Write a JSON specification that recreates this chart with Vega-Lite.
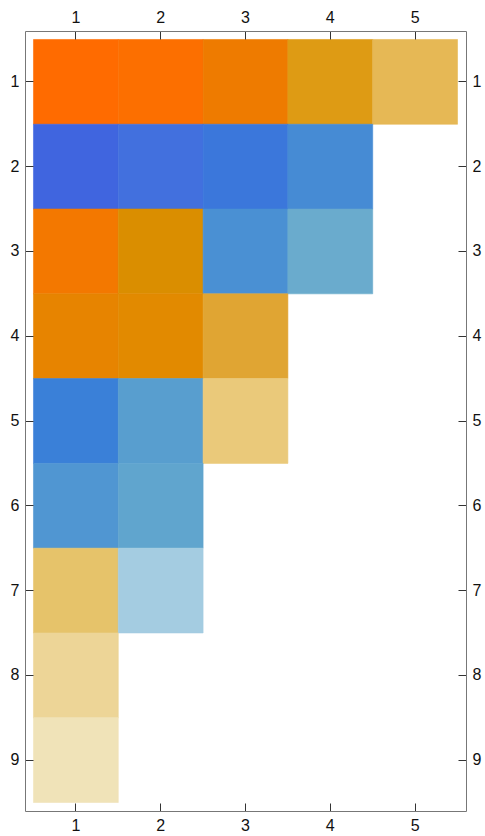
{
  "$schema": "https://vega.github.io/schema/vega-lite/v6.json",
  "autosize": "none",
  "padding": {"left": 25, "top": 31, "right": 19, "bottom": 25},
  "width": 441,
  "height": 780,
  "background": "white",
  "config": {
    "view": {"stroke": null},
    "axis": {
      "labelFont": "Liberation Sans",
      "labelFontSize": 16,
      "labelColor": "#111",
      "domainColor": "#777",
      "domainWidth": 1,
      "tickColor": "#333",
      "tickWidth": 1,
      "tickSize": -8,
      "labelPadding": 14,
      "grid": false,
      "title": null,
      "labelAngle": 0
    }
  },
  "data": {
    "values": [
      {"row": 1, "col": 1, "cell": "1-1"},
      {"row": 1, "col": 2, "cell": "1-2"},
      {"row": 1, "col": 3, "cell": "1-3"},
      {"row": 1, "col": 4, "cell": "1-4"},
      {"row": 1, "col": 5, "cell": "1-5"},
      {"row": 2, "col": 1, "cell": "2-1"},
      {"row": 2, "col": 2, "cell": "2-2"},
      {"row": 2, "col": 3, "cell": "2-3"},
      {"row": 2, "col": 4, "cell": "2-4"},
      {"row": 3, "col": 1, "cell": "3-1"},
      {"row": 3, "col": 2, "cell": "3-2"},
      {"row": 3, "col": 3, "cell": "3-3"},
      {"row": 3, "col": 4, "cell": "3-4"},
      {"row": 4, "col": 1, "cell": "4-1"},
      {"row": 4, "col": 2, "cell": "4-2"},
      {"row": 4, "col": 3, "cell": "4-3"},
      {"row": 5, "col": 1, "cell": "5-1"},
      {"row": 5, "col": 2, "cell": "5-2"},
      {"row": 5, "col": 3, "cell": "5-3"},
      {"row": 6, "col": 1, "cell": "6-1"},
      {"row": 6, "col": 2, "cell": "6-2"},
      {"row": 7, "col": 1, "cell": "7-1"},
      {"row": 7, "col": 2, "cell": "7-2"},
      {"row": 8, "col": 1, "cell": "8-1"},
      {"row": 9, "col": 1, "cell": "9-1"}
    ]
  },
  "layer": [
    {
      "mark": {"type": "rect", "strokeWidth": 0.6},
      "encoding": {
        "x": {
          "field": "col", "type": "ordinal",
          "scale": {"domain": [1, 2, 3, 4, 5], "paddingInner": 0, "paddingOuter": 0.1},
          "axis": {"orient": "bottom"}
        },
        "y": {
          "field": "row", "type": "ordinal",
          "scale": {"domain": [1, 2, 3, 4, 5, 6, 7, 8, 9], "paddingInner": 0, "paddingOuter": 0.1},
          "axis": {"orient": "left"}
        },
        "color": {
          "field": "cell", "type": "nominal", "legend": null,
          "scale": {
            "domain": ["1-1","1-2","1-3","1-4","1-5","2-1","2-2","2-3","2-4","3-1","3-2","3-3","3-4","4-1","4-2","4-3","5-1","5-2","5-3","6-1","6-2","7-1","7-2","8-1","9-1"],
            "range": ["#FF6B00","#FC6F00","#EE7B00","#DE9B14","#E6B855","#4065DF","#4270DE","#3B77DB","#468BD4","#F37800","#DA8E00","#4A90D3","#6AABCD","#E78400","#E28A00","#E0A533","#3A80D8","#589ECF","#EAC97A","#5096D2","#60A5CE","#E6C36A","#A4CCE1","#EDD597","#F0E3B8"]
          }
        },
        "stroke": {
          "field": "cell", "type": "nominal", "legend": null,
          "scale": {
            "domain": ["1-1","1-2","1-3","1-4","1-5","2-1","2-2","2-3","2-4","3-1","3-2","3-3","3-4","4-1","4-2","4-3","5-1","5-2","5-3","6-1","6-2","7-1","7-2","8-1","9-1"],
            "range": ["#FF6B00","#FC6F00","#EE7B00","#DE9B14","#E6B855","#4065DF","#4270DE","#3B77DB","#468BD4","#F37800","#DA8E00","#4A90D3","#6AABCD","#E78400","#E28A00","#E0A533","#3A80D8","#589ECF","#EAC97A","#5096D2","#60A5CE","#E6C36A","#A4CCE1","#EDD597","#F0E3B8"]
          }
        }
      }
    },
    {
      "mark": {"type": "rect", "opacity": 0},
      "encoding": {
        "x": {"field": "col", "type": "ordinal", "axis": {"orient": "top"}},
        "y": {"field": "row", "type": "ordinal", "axis": {"orient": "right"}}
      }
    }
  ],
  "resolve": {"axis": {"x": "independent", "y": "independent"}}
}
